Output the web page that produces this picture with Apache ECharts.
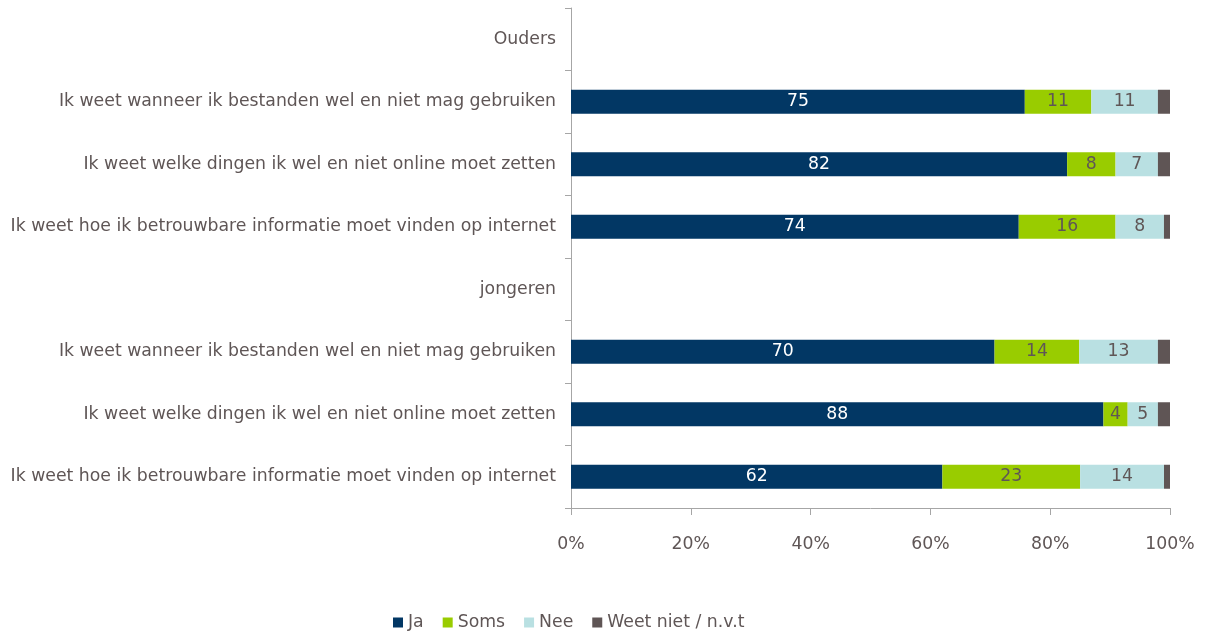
<!DOCTYPE html>
<html>
<head>
<meta charset="utf-8">
<script src="https://cdn.jsdelivr.net/npm/echarts@6/dist/echarts.min.js"></script>
<style>
  html, body { margin: 0; padding: 0; background: #fff; }
  #chart { width: 1209px; height: 634px; }
</style>
</head>
<body>
<div id="chart"></div>
<script>
// categorieën (van boven naar beneden)
let categories = [
    'Ouders',
    'Ik weet wanneer ik bestanden wel en niet mag gebruiken',
    'Ik weet welke dingen ik wel en niet online moet zetten',
    'Ik weet hoe ik betrouwbare informatie moet vinden op internet',
    'jongeren',
    'Ik weet wanneer ik bestanden wel en niet mag gebruiken',
    'Ik weet welke dingen ik wel en niet online moet zetten',
    'Ik weet hoe ik betrouwbare informatie moet vinden op internet'
]
// waarden per antwoord
let ja = [null, 75, 82, 74, null, 70, 88, 62]
let soms = [null, 11, 8, 16, null, 14, 4, 23]
let nee = [null, 11, 7, 8, null, 13, 5, 14]
let weetNiet = [null, 2, 2, 1, null, 2, 2, 1]
let xTicks = [0, 20, 40, 60, 80, 100]

let textColor = '#5f5656'
let font = 'DejaVu Sans'
let fs = 17.3

// 100% gestapeld: elke rij naar 100 schalen
let totals = categories.map((c, i) => (ja[i] || 0) + (soms[i] || 0) + (nee[i] || 0) + (weetNiet[i] || 0))
function norm(arr) {
    return arr.map((v, i) => v == null ? null : v / totals[i] * 100)
}

function makeSeries(name, arr, color, labelColor, showLabel) {
    return {
        name: name,
        type: 'bar',
        stack: 'totaal',
        barWidth: 24,
        data: norm(arr),
        itemStyle: { color: color },
        label: {
            show: showLabel,
            position: 'inside',
            color: labelColor,
            fontFamily: font,
            fontSize: fs,
            formatter: p => arr[p.dataIndex] == null ? '' : arr[p.dataIndex]
        }
    }
}

let chart = echarts.init(document.getElementById('chart'))
let option = {
    animation: false,
    textStyle: { fontFamily: font },
    grid: { left: 571, right: 39, top: 8, bottom: 126, containLabel: false },
    legend: {
        top: 609,
        left: 388,
        icon: 'rect',
        itemWidth: 10,
        itemHeight: 10,
        itemGap: 19,
        textStyle: { color: textColor, fontSize: fs, fontFamily: font },
        data: ['Ja', 'Soms', 'Nee', 'Weet niet / n.v.t']
    },
    xAxis: {
        type: 'value',
        min: xTicks[0],
        max: xTicks[xTicks.length - 1],
        interval: 20,
        splitLine: { show: false },
        axisLine: { show: true, lineStyle: { color: '#a6a6a6' } },
        axisTick: { show: true, length: 7, lineStyle: { color: '#a6a6a6' } },
        axisLabel: { color: textColor, fontSize: fs, fontFamily: font, margin: 28, formatter: '{value}%' }
    },
    yAxis: {
        type: 'category',
        inverse: true,
        data: categories,
        axisLine: { show: true, lineStyle: { color: '#a6a6a6' } },
        axisTick: { show: true, length: 6, lineStyle: { color: '#a6a6a6' } },
        axisLabel: { color: textColor, fontSize: fs, fontFamily: font, margin: 15 }
    },
    series: [
        makeSeries('Ja', ja, '#023764', '#ffffff', true),
        makeSeries('Soms', soms, '#99cc00', textColor, true),
        makeSeries('Nee', nee, '#b9e0e2', textColor, true),
        makeSeries('Weet niet / n.v.t', weetNiet, '#5f5555', textColor, false)
    ]
}
chart.setOption(option)
</script>
</body>
</html>
